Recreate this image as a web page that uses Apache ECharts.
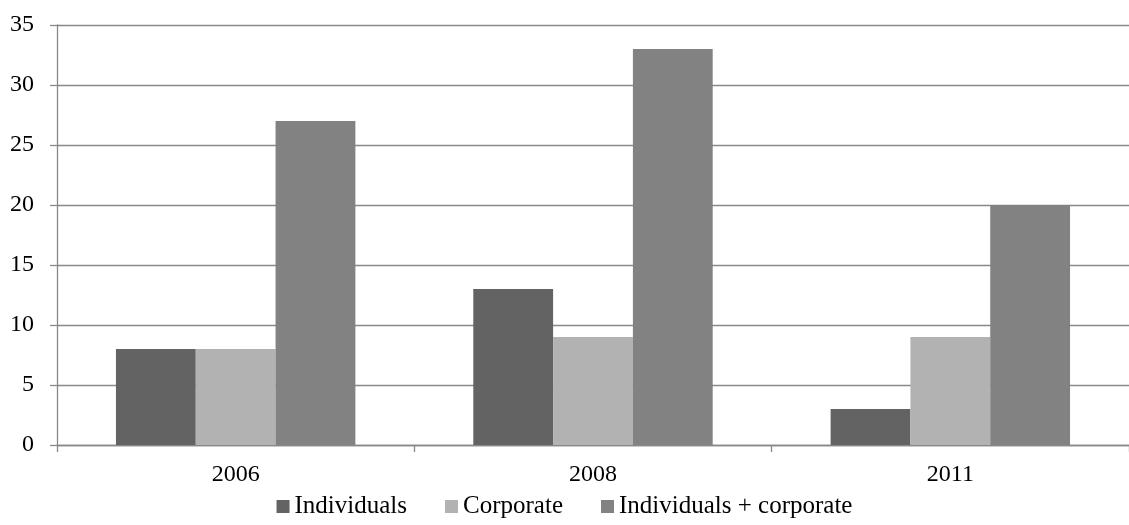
<!DOCTYPE html>
<html>
<head>
<meta charset="utf-8">
<script src="https://cdn.jsdelivr.net/npm/echarts@6/dist/echarts.min.js"></script>
<style>html,body{margin:0;padding:0;background:#fff}#c{width:1129px;height:525px}</style>
</head>
<body>
<div id="c"></div>
<script>
var categories = ['2006', '2008', '2011'];
var individuals = [8, 13, 3];
var corporate = [8, 9, 9];
var combined = [27, 33, 20];
var seriesNames = ['Individuals', 'Corporate', 'Individuals + corporate'];

var font = "'Liberation Serif', 'Times New Roman', serif";
var chart = echarts.init(document.getElementById('c'));
chart.setOption({
  backgroundColor: '#fff',
  animation: false,
  color: ['#636363', '#b2b2b2', '#828282'],
  grid: { left: 57, right: 0, top: 25, bottom: 80, containLabel: false },
  legend: {
    bottom: 1,
    left: 'center',
    itemWidth: 13,
    itemHeight: 13,
    itemGap: 38,
    icon: 'rect',
    textStyle: { fontFamily: font, fontSize: 25, color: '#000' },
    data: seriesNames
  },
  xAxis: {
    type: 'category',
    data: categories,
    axisLine: { lineStyle: { color: '#898989', width: 1.3 } },
    axisTick: { show: true, length: 7, lineStyle: { color: '#898989', width: 1.3 } },
    axisLabel: { fontFamily: font, fontSize: 24, color: '#000', margin: 18 }
  },
  yAxis: {
    type: 'value',
    min: 0, max: 35, interval: 5,
    axisLine: { show: true, lineStyle: { color: '#898989', width: 1.3 } },
    axisTick: { show: true, length: 7, lineStyle: { color: '#898989', width: 1.3 } },
    splitLine: { show: true, lineStyle: { color: '#898989', width: 1.3 } },
    axisLabel: { fontFamily: font, fontSize: 24, color: '#000', margin: 23 }
  },
  series: [
    { name: seriesNames[0], type: 'bar', data: individuals, barGap: '0%', barCategoryGap: '33%' },
    { name: seriesNames[1], type: 'bar', data: corporate, barGap: '0%', barCategoryGap: '33%' },
    { name: seriesNames[2], type: 'bar', data: combined, barGap: '0%', barCategoryGap: '33%' }
  ]
});
</script>
</body>
</html>
